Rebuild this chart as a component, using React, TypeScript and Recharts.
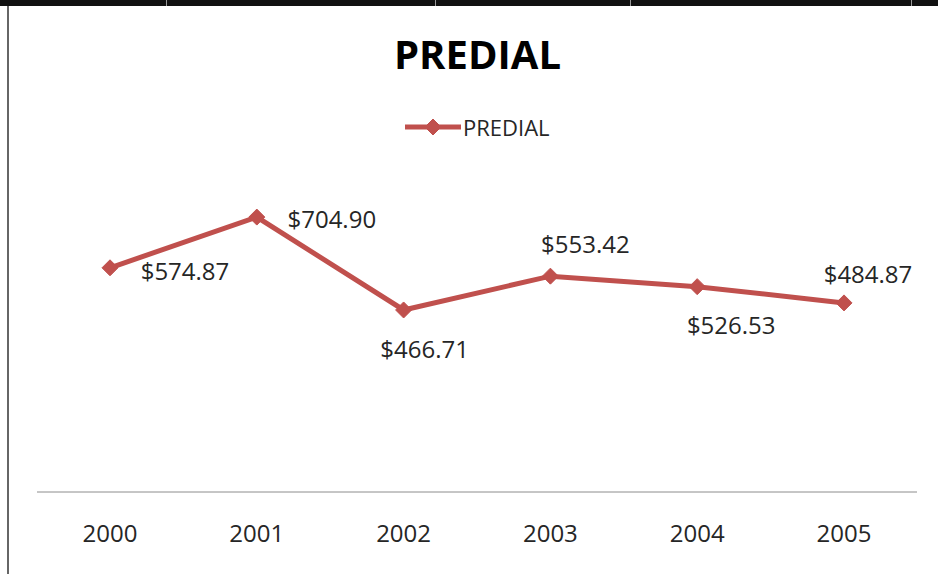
import * as React from "react";
import { Line, LineChart, XAxis, YAxis } from "recharts";

const years = ["2000", "2001", "2002", "2003", "2004", "2005"];
const predial = [574.87, 704.9, 466.71, 553.42, 526.53, 484.87];

// label centre offsets from each point (dx, dy)
const labelOffsets = [
  [75, 3],
  [75, 1],
  [21, 39],
  [35, -33],
  [34, 38],
  [24, -29],
];

const data = years.map((year, i) => ({ year, PREDIAL: predial[i] }));

const RED = "#C0504D";
const TEXT = "#262626";
const FONT = "'Open Sans', sans-serif";

const Diamond = ({ cx, cy, r = 8 }: { cx: number; cy: number; r?: number }) => (
  <path
    d={`M${cx},${cy - r} L${cx + r},${cy} L${cx},${cy + r} L${cx - r},${cy} Z`}
    fill={RED}
    stroke={RED}
  />
);

const renderDot = (props: any) => {
  const { cx, cy, index } = props;
  if (cx == null || cy == null) return null;
  return <Diamond key={`dot-${index}`} cx={cx} cy={cy} />;
};

const renderLabel = (props: any) => {
  const { x, y, value, index } = props;
  const [dx, dy] = labelOffsets[index] || [0, 0];
  return (
    <text
      key={`lbl-${index}`}
      x={x + dx}
      y={y + dy}
      textAnchor="middle"
      dominantBaseline="central"
      fill={TEXT}
      fontSize={24}
      fontFamily={FONT}
    >
      {`$${value.toFixed(2)}`}
    </text>
  );
};

const renderTick = (props: any) => {
  const { x, y, payload } = props;
  return (
    <text
      x={x}
      y={y + 32}
      textAnchor="middle"
      dominantBaseline="central"
      fill={TEXT}
      fontSize={24}
      fontFamily={FONT}
    >
      {payload.value}
    </text>
  );
};

const topBandLines = [166, 435, 630, 911];

export default function App() {
  return (
    <div
      style={{
        position: "fixed",
        top: 0,
        left: 0,
        width: 938,
        height: 574,
        background: "#fff",
        overflow: "hidden",
      }}
    >
      {/* top border band */}
      <div
        style={{ position: "absolute", top: 0, left: 0, width: 938, height: 6, background: "#111" }}
      />
      {topBandLines.map((x) => (
        <div
          key={x}
          style={{ position: "absolute", top: 0, left: x, width: 1, height: 6, background: "#999" }}
        />
      ))}
      {/* left border */}
      <div
        style={{ position: "absolute", top: 6, left: 7, width: 2, height: 568, background: "#666" }}
      />

      {/* title */}
      <div
        style={{
          position: "absolute",
          top: 29,
          left: 0,
          width: 955,
          textAlign: "center",
          fontFamily: FONT,
          fontWeight: 700,
          fontSize: 40,
          color: "#000",
          lineHeight: "50px",
        }}
      >
        PREDIAL
      </div>

      {/* legend */}
      <div
        style={{
          position: "absolute",
          top: 112,
          left: 405,
          display: "flex",
          alignItems: "center",
          fontFamily: FONT,
          fontSize: 22,
          color: TEXT,
          lineHeight: "30px",
        }}
      >
        <svg width={56} height={20}>
          <line x1={0} y1={10} x2={56} y2={10} stroke={RED} strokeWidth={5} />
          <Diamond cx={28} cy={10} r={8} />
        </svg>
        <span style={{ marginLeft: 2 }}>PREDIAL</span>
      </div>

      <div style={{ position: "absolute", top: 0, left: 0 }}>
        <LineChart
          width={938}
          height={574}
          data={data}
          margin={{ top: 180, right: 21, left: 37, bottom: 0 }}
        >
          <XAxis
            dataKey="year"
            height={82}
            axisLine={{ stroke: "#8c8c8c", strokeWidth: 1 }}
            tickLine={false}
            tick={renderTick}
            interval={0}
            padding={{ left: 73, right: 73 }}
          />
          <YAxis hide domain={[0, 800]} />
          <Line
            dataKey="PREDIAL"
            stroke={RED}
            strokeWidth={5}
            dot={renderDot}
            activeDot={false}
            label={renderLabel}
            isAnimationActive={false}
          />
        </LineChart>
      </div>
    </div>
  );
}
